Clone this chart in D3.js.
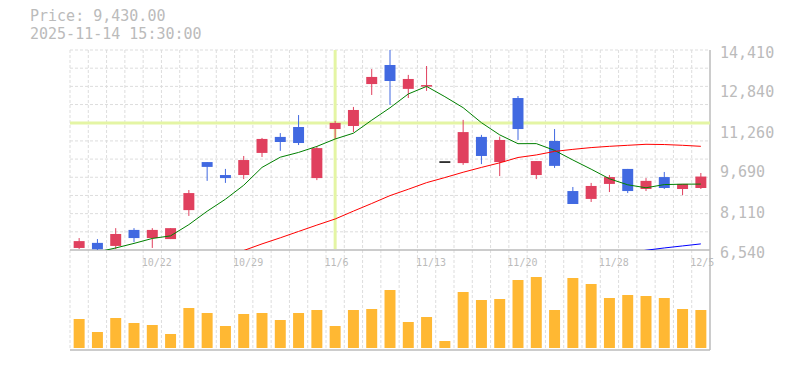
<!DOCTYPE html>
<html lang="en">
<head>
<meta charset="utf-8">
<title>Candlestick chart</title>
<script src="https://cdn.jsdelivr.net/npm/d3@7"></script>
<style>
  body { margin: 0; background: #fff; }
  text { font-family: "DejaVu Sans Mono", monospace; fill: #bbb; }
</style>
</head>
<body>
<script>
// trading days shown on the chart
var dates = ["10/16","10/17","10/20","10/21","10/22","10/23","10/24","10/27","10/28","10/29",
             "10/30","10/31","11/4","11/5","11/6","11/7","11/10","11/11","11/12","11/13",
             "11/14","11/17","11/18","11/19","11/20","11/21","11/25","11/26","11/27","11/28",
             "12/1","12/2","12/3","12/4","12/5"];
var dateTicks = ["10/22","10/29","11/6","11/13","11/20","11/28","12/5"];
var priceTicks = [6540, 8110, 9690, 11260, 12840, 14410];

var open  = [6620,6820,6700,7330,7010,6970,8110,10000,9490,9490,
             10360,10990,11380,9370,11300,11420,13070,13820,12880,13030,
             10030,9960,10990,10000,12520,9490,10830,8860,8550,9140,
             9730,8940,9410,8940,8980];
var high  = [7010,6970,7400,7400,7400,7400,8900,10000,9730,10240,
             10950,11140,11850,10630,11620,12170,13660,14410,13430,13780,
             10030,11660,11070,11000,12600,10040,11300,9020,9180,9490,
             9730,9370,9610,9140,9570];
var low   = [6580,6540,6580,6850,6620,6970,7880,9260,9180,9330,
             10200,10440,10670,9290,10910,11180,12640,12250,12520,12800,
             10030,9890,9920,9450,10870,9330,9770,8350,8430,8820,
             8780,8860,8940,8700,8940];
var close = [6890,6570,7170,7010,7330,7400,8780,9810,9370,10080,
             10910,10790,10750,10550,11540,12050,13350,13190,13270,13030,
             10030,11180,10240,10870,11300,10040,9850,8350,9060,9410,
             8860,9260,8980,9140,9430];
var volume = [290,160,300,250,230,140,400,350,220,340,
              350,280,350,380,220,380,390,580,260,310,
              70,560,480,490,680,710,380,700,640,500,
              530,520,500,390,380];

// moving averages (null = not drawn)
var ma5  = [6300,6460,6620,6800,6994,7096,7538,8066,8538,9088,
            9790,10192,10380,10616,10908,11136,11648,12136,12680,12978,
            12574,12140,11550,11070,10724,10726,10460,10082,9720,9342,
            9106,8988,9114,9130,9134];
var ma25 = [null,null,null,null,null,null,null,null,6280,6520,
            6780,7020,7270,7520,7760,8070,8370,8680,8930,9190,
            9390,9600,9790,9970,10180,10280,10420,10500,10570,10620,
            10660,10700,10690,10660,10620];
var ma75 = [null,null,null,null,null,null,null,null,null,null,
            null,null,null,null,null,null,null,null,null,null,
            null,null,null,null,null,null,null,null,null,null,
            6440,6530,6620,6700,6780];

var crossDate = "11/6", crossPrice = 11540;

var w = 785, h = 370;
var pL = 70, pR = 710, pT = 50, pM = 250, pB = 350;

var svg = d3.select("body").append("svg")
    .attr("width", w).attr("height", h);

var x = d3.scaleBand().domain(dates).range([pL, pR])
    .paddingInner(0.4).paddingOuter(0.2);
var step = x.step(), bw = x.bandwidth();
var cx = function(d) { return x(d) + bw / 2; };

var y = d3.scaleLinear().domain([6540, 14410]).range([pM, pT]);
var yv = d3.scaleLinear().domain([0, 1000]).range([348, 248]);

// grid
var grid = svg.append("g").attr("stroke", "#ddd").attr("stroke-dasharray", "3,2");
grid.selectAll("line.h").data(d3.range(11)).enter().append("line")
    .attr("x1", pL).attr("x2", pR)
    .attr("y1", function(k) { return pT + k * (pM - pT) / 11; })
    .attr("y2", function(k) { return pT + k * (pM - pT) / 11; });
grid.selectAll("line.v").data(d3.range(35)).enter().append("line")
    .attr("x1", function(k) { return pL + k * step; })
    .attr("x2", function(k) { return pL + k * step; })
    .attr("y1", pT).attr("y2", pB);

// frame
svg.append("line").attr("x1", pL).attr("x2", pR).attr("y1", pM).attr("y2", pM)
    .attr("stroke", "#bbb").attr("stroke-width", 1.5);
svg.append("line").attr("x1", pL).attr("x2", pR).attr("y1", pB).attr("y2", pB)
    .attr("stroke", "#bbb").attr("stroke-width", 1.5);
svg.append("line").attr("x1", pR).attr("x2", pR).attr("y1", pT).attr("y2", pB)
    .attr("stroke", "#bbb").attr("stroke-width", 1.5);

svg.append("clipPath").attr("id", "clip").append("rect")
    .attr("x", pL).attr("y", pT).attr("width", pR - pL).attr("height", pM - pT);

var plot = svg.append("g").attr("clip-path", "url(#clip)");

// crosshair
plot.append("line").attr("x1", pL).attr("x2", pR)
    .attr("y1", y(crossPrice)).attr("y2", y(crossPrice))
    .attr("stroke", "#e4f5a4").attr("stroke-width", 3);
plot.append("line").attr("x1", cx(crossDate)).attr("x2", cx(crossDate))
    .attr("y1", pT).attr("y2", pM - 1)
    .attr("stroke", "#e4f5a4").attr("stroke-width", 3);

var col = function(i) {
  if (high[i] === low[i]) return "#000";
  return close[i] >= open[i] ? "#e0405e" : "#4169e1";
};

// candles
var candles = plot.selectAll("g.c").data(dates).enter().append("g");
candles.append("line")
    .attr("x1", function(d) { return cx(d); }).attr("x2", function(d) { return cx(d); })
    .attr("y1", function(d, i) { return y(high[i]); })
    .attr("y2", function(d, i) { return y(low[i]); })
    .attr("stroke", function(d, i) { return col(i); }).attr("stroke-width", 1);
candles.append("rect")
    .attr("x", function(d) { return x(d); })
    .attr("width", bw)
    .attr("y", function(d, i) { return y(Math.max(open[i], close[i])); })
    .attr("height", function(d, i) { return Math.max(1.5, Math.abs(y(open[i]) - y(close[i]))); })
    .attr("fill", function(d, i) { return col(i); });

// moving averages
function maLine(vals, color) {
  var line = d3.line()
      .defined(function(d, i) { return vals[i] != null; })
      .x(function(d) { return cx(d); })
      .y(function(d, i) { return y(vals[i]); });
  plot.append("path").attr("d", line(dates))
      .attr("fill", "none").attr("stroke", color).attr("stroke-width", 1);
}
maLine(ma5, "#008000");
maLine(ma25, "#ff0000");
maLine(ma75, "#0000ff");

// volume
svg.selectAll("rect.vol").data(dates).enter().append("rect")
    .attr("x", function(d) { return x(d); })
    .attr("width", bw)
    .attr("y", function(d, i) { return yv(volume[i]); })
    .attr("height", function(d, i) { return yv(0) - yv(volume[i]); })
    .attr("fill", "#ffb833");

// axis labels
svg.selectAll("text.yt").data(priceTicks).enter().append("text")
    .attr("x", 720).attr("y", function(d) { return y(d) + 7.5; })
    .attr("font-size", 15)
    .text(function(d) { return d3.format(",")(d); });

svg.selectAll("text.xt").data(dateTicks).enter().append("text")
    .attr("x", function(d) { return x(d) - (step - bw) / 2 - 1.5; })
    .attr("y", 266)
    .attr("font-size", 10)
    .text(function(d) { return d; });

svg.append("text").attr("x", 30).attr("y", 21).attr("font-size", 15).text("Price: 9,430.00");
svg.append("text").attr("x", 30).attr("y", 38.5).attr("font-size", 15).text("2025-11-14 15:30:00");
</script>
</body>
</html>
